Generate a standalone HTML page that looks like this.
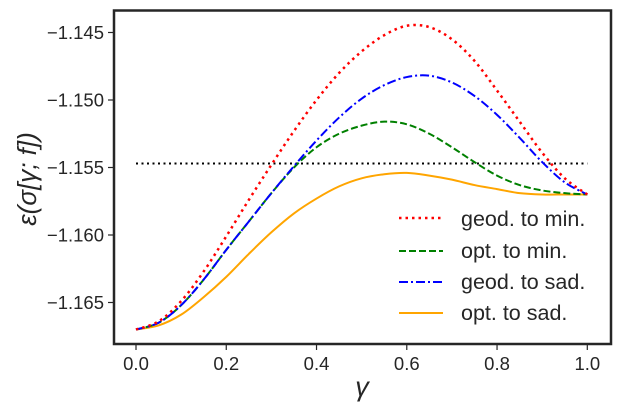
<!DOCTYPE html>
<html><head><meta charset="utf-8"><style>
body{margin:0;background:#fff}
svg text{font-family:"Liberation Sans","DejaVu Sans",sans-serif;fill:#262626}
</style></head><body>
<svg id="chart" width="619" height="411" viewBox="0 0 619 411" xmlns="http://www.w3.org/2000/svg">
<g id="marks"></g>
<g id="axes"></g>
<text transform="translate(36,179) rotate(-90)" text-anchor="middle" font-size="26" font-style="italic">ε(σ[γ; f])</text>
<text x="362" y="396" text-anchor="middle" font-size="27" font-style="italic">γ</text>
<g font-size="21.5">
<line x1="399" y1="218" x2="443" y2="218" stroke="red" stroke-width="2.5" stroke-dasharray="2.5,4"/>
<text x="461" y="226">geod. to min.</text>
<line x1="399" y1="251" x2="443" y2="251" stroke="green" stroke-width="2" stroke-dasharray="7,3"/>
<text x="461" y="258">opt. to min.</text>
<line x1="399" y1="282" x2="443" y2="282" stroke="blue" stroke-width="2" stroke-dasharray="9,3,2,3"/>
<text x="461" y="289">geod. to sad.</text>
<line x1="399" y1="313" x2="443" y2="313" stroke="orange" stroke-width="2"/>
<text x="461" y="320">opt. to sad.</text>
</g>
</svg>
<script>
const gammas=[0,0.05,0.1,0.15,0.2,0.25,0.3,0.35,0.4,0.45,0.5,0.55,0.6,0.65,0.7,0.75,0.8,0.85,0.9,0.95,1.0];
const geodMin=[-1.1670,-1.1664,-1.1649,-1.1627,-1.1601,-1.1574,-1.1548,-1.1523,-1.1500,-1.1480,-1.1464,-1.1452,-1.1445,-1.1446,-1.1455,-1.1471,-1.1493,-1.1516,-1.1539,-1.1558,-1.1570];
const optMin=[-1.1670,-1.1665,-1.1652,-1.1633,-1.1611,-1.1590,-1.1569,-1.1550,-1.1535,-1.1525,-1.1519,-1.1516,-1.1518,-1.1525,-1.1535,-1.1546,-1.1556,-1.1563,-1.1567,-1.1569,-1.1570];
const geodSad=[-1.1670,-1.1665,-1.1652,-1.1633,-1.1611,-1.1590,-1.1569,-1.1549,-1.1530,-1.1513,-1.1499,-1.1489,-1.1483,-1.1482,-1.1487,-1.1497,-1.1511,-1.1528,-1.1546,-1.1561,-1.1570];
const optSad=[-1.1670,-1.1667,-1.1659,-1.1646,-1.1631,-1.1614,-1.1598,-1.1584,-1.1573,-1.1564,-1.1558,-1.1555,-1.1554,-1.1556,-1.1559,-1.1563,-1.1566,-1.1569,-1.1570,-1.1570,-1.1570];
const refLevel=-1.1547;
const xTicks=[0,0.2,0.4,0.6,0.8,1.0];
const xTickLabels=["0.0","0.2","0.4","0.6","0.8","1.0"];
const yTicks=[-1.145,-1.150,-1.155,-1.160,-1.165];
const yTickLabels=["−1.145","−1.150","−1.155","−1.160","−1.165"];

const NS="http://www.w3.org/2000/svg";
const X=v=>136+451.3*v;
const Y=v=>32.5+(-1.145-v)*13500;
const marks=document.getElementById('marks'), axes=document.getElementById('axes');
function mk(tag,attrs,parent){const e=document.createElementNS(NS,tag);for(const k in attrs)e.setAttribute(k,attrs[k]);parent.appendChild(e);return e;}
function smoothPath(xs,ys){
  const p=xs.map((x,i)=>[X(x),Y(ys[i])]);
  let d=`M${p[0][0]},${p[0][1]}`;
  for(let i=0;i<p.length-1;i++){
    const p0=p[i-1]||p[i],p1=p[i],p2=p[i+1],p3=p[i+2]||p2;
    const c1=[p1[0]+(p2[0]-p0[0])/6,p1[1]+(p2[1]-p0[1])/6];
    const c2=[p2[0]-(p3[0]-p1[0])/6,p2[1]-(p3[1]-p1[1])/6];
    d+=` C${c1[0]},${c1[1]} ${c2[0]},${c2[1]} ${p2[0]},${p2[1]}`;
  }
  return d;
}
const ref=mk('line',{x1:X(0),x2:X(1),y1:Y(refLevel),y2:Y(refLevel),stroke:'#000','stroke-width':2,'stroke-dasharray':'2,3.5'},marks);


const series=[
 ['line-opt-sad',optSad,'orange',{}],
 ['line-opt-min',optMin,'green',{'stroke-dasharray':'7,3'}],
 ['line-geod-sad',geodSad,'blue',{'stroke-dasharray':'9,3,2,3'}],
 ['line-geod-min',geodMin,'red',{'stroke-dasharray':'2.5,4','stroke-width':2.5}]
];
series.forEach(([name,vals,col,extra])=>{
  const path=mk('path',Object.assign({d:smoothPath(gammas,vals),fill:'none',stroke:col,'stroke-width':2},extra),marks);
  
  
});
const frame=mk('rect',{x:114,y:10.5,width:497,height:333.5,fill:'none',stroke:'#262626','stroke-width':2.5},axes);


xTicks.forEach((t,i)=>{
  const tk=mk('line',{x1:X(t),x2:X(t),y1:344,y2:350,stroke:'#262626','stroke-width':1.2},axes);
  
  
  const lb=mk('text',{x:X(t),y:370,'text-anchor':'middle','font-size':18.5},axes);
  lb.textContent=xTickLabels[i];
  
  
});
yTicks.forEach((t,i)=>{
  const tk=mk('line',{x1:108,x2:114,y1:Y(t),y2:Y(t),stroke:'#262626','stroke-width':1.2},axes);
  
  
  const lb=mk('text',{x:104,y:Y(t)+6.5,'text-anchor':'end','font-size':18.5},axes);
  lb.textContent=yTickLabels[i];
  
  
});
</script>
</body></html>
